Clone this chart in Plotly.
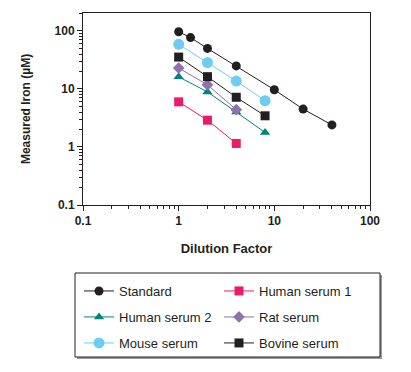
import plotly.graph_objects as go

series_names = ["Standard", "Human serum 1", "Human serum 2", "Rat serum", "Mouse serum", "Bovine serum"]
std_x = [1, 1.33, 2, 4, 10, 20, 40]
std_y = [97, 77, 50, 25, 9.7, 4.5, 2.4]
hs1_x = [1, 2, 4]
hs1_y = [6.0, 2.9, 1.15]
hs2_x = [1, 2, 4, 8]
hs2_y = [16.2, 8.9, 4.0, 1.78]
rat_x = [1, 2, 4]
rat_y = [23, 11.8, 4.4]
mouse_x = [1, 2, 4, 8]
mouse_y = [59, 28.5, 13.7, 6.3]
bov_x = [1, 2, 4, 8]
bov_y = [35.5, 16.3, 7.2, 3.45]

W, H = 411, 372
OFF = 8  # page body margin
ML, MR, MT, MB = 83 - OFF, 411 - (370 - OFF), 13 - OFF, 372 - (205 - OFF)
pw, ph = W - ML - MR, H - MT - MB

def px2paper_x(px):
    return (px - OFF - ML) / pw

def px2paper_y(py):
    return (H - MB - (py - OFF)) / ph

styles = [
    dict(color="#231f20", symbol="circle", size=9, lw=1.0, legend="legend"),
    dict(color="#ec1a6b", symbol="square", size=9, lw=1.0, legend="legend"),
    dict(color="#00827d", symbol="triangle-up", size=9, lw=1.0, legend="legend2"),
    dict(color="#8e72b0", symbol="diamond", size=9, lw=1.0, legend="legend2"),
    dict(color="#6cccf3", symbol="circle", size=11, lw=1.0, legend="legend3"),
    dict(color="#231f20", symbol="square", size=9, lw=1.0, legend="legend3"),
]
data = [(std_x, std_y), (hs1_x, hs1_y), (hs2_x, hs2_y), (rat_x, rat_y), (mouse_x, mouse_y), (bov_x, bov_y)]

fig = go.Figure()
order = [2, 3, 1, 5, 4, 0]
for i in order:
    s = styles[i]
    x, y = data[i]
    fig.add_trace(go.Scatter(
        x=x, y=y, name=series_names[i], mode="lines+markers",
        line=dict(color=s["color"], width=s["lw"]),
        marker=dict(color=s["color"], symbol=s["symbol"], size=s["size"], line=dict(width=0)),
        legend=s["legend"], legendrank=i + 1,
    ))

FONT = "Arial, Liberation Sans, sans-serif"
common_axis = dict(
    type="log", showgrid=False, zeroline=False, showline=True, linecolor="#231f20", linewidth=1,
    mirror=True, ticks="outside", ticklen=5, tickcolor="#231f20", tickwidth=1,
    tickfont=dict(family=FONT, size=12, color="#231f20", weight="bold"),
    minor=dict(ticks="outside", ticklen=3, tickcolor="#231f20", dtick="D1"),
)
fig.update_xaxes(common_axis, range=[-1, 2], tickvals=[0.1, 1, 10, 100], ticktext=["0.1", "1", "10", "100"],
                 title=dict(text="<b>Dilution Factor</b>", font=dict(family=FONT, size=13, color="#231f20"), standoff=16))
fig.update_yaxes(common_axis, range=[-1, 2.31], tickvals=[0.1, 1, 10, 100], ticktext=["0.1", "1", "10", "100"],
                 title=dict(text="<b>Measured Iron (µM)</b>", font=dict(family=FONT, size=12, color="#231f20"), standoff=21))

leg_common = dict(orientation="h", xanchor="left", yanchor="middle", entrywidth=95,
                  font=dict(family=FONT, size=13, color="#231f20"),
                  bgcolor="rgba(0,0,0,0)", borderwidth=0, itemclick=False)
lx = px2paper_x(79)
fig.update_layout(
    legend=dict(leg_common, x=lx, y=px2paper_y(291)),
    legend2=dict(leg_common, x=lx, y=px2paper_y(317)),
    legend3=dict(leg_common, x=lx, y=px2paper_y(343)),
)

fig.add_shape(type="rect", xref="paper", yref="paper",
              x0=px2paper_x(77), x1=px2paper_x(382), y0=px2paper_y(275), y1=px2paper_y(359),
              fillcolor="#9a9a9a", line=dict(width=0), layer="below")
fig.add_shape(type="rect", xref="paper", yref="paper",
              x0=px2paper_x(75), x1=px2paper_x(380), y0=px2paper_y(273), y1=px2paper_y(357),
              fillcolor="white", line=dict(color="#231f20", width=1), layer="below")

fig.update_layout(
    width=W, height=H, margin=dict(l=ML, r=MR, t=MT, b=MB),
    paper_bgcolor="white", plot_bgcolor="white", showlegend=True,
)
fig.write_html("out.html")
